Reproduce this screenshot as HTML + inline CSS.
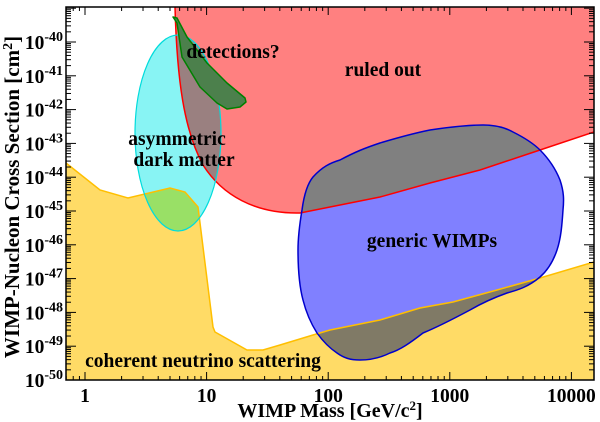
<!DOCTYPE html>
<html><head><meta charset="utf-8"><style>
body{margin:0;background:#fff}
svg{display:block}
text{font-family:"Liberation Serif",serif;font-weight:bold}
</style></head><body>
<svg id="s" width="600" height="422" viewBox="0 0 600 422" xmlns="http://www.w3.org/2000/svg">
<defs>
<clipPath id="plot"><rect x="66" y="7" width="528" height="373"/></clipPath>
<clipPath id="cRed"><path id="pRed" d="M175,7 C177,80 184,130 203,165 C222,195 255,214 300,213 L330,207 L380,197 L430,183 L480,170 L540,150 L594,132 L594,7 Z"/></clipPath>
<clipPath id="cYel"><path id="pYel" d="M66,163 L100,190 L128,198 L170,188 L185,192 L198,207 L213,327 L215,332 L247,350 L263,350 L280,345 L313,335 L330,330 L380,320 L420,308 L453,302 L497,290 L540,278 L594,262 L594,380 L66,380 Z"/></clipPath>
<clipPath id="cCyan"><ellipse cx="178" cy="133" rx="43" ry="98"/></clipPath>
<clipPath id="cBlue"><path id="pBlue" d="M302,210 C304,195 308,183 313,177 C322,167 330,163 340,160 C355,152 365,148 380,143 C400,137 415,133 430,130 C450,127 468,125 483,125 C497,125 506,128 513,132 C525,138 533,143 540,150 C550,160 556,170 560,180 C564,192 564,200 563,210 C562,225 561,238 557,250 C553,262 548,270 540,277 C528,287 518,290 507,293 C493,298 482,303 470,310 C455,318 440,326 423,333 C410,343 400,350 390,353 C380,358 370,360 360,360 C350,360 344,358 337,353 C328,347 322,340 317,333 C310,322 306,312 303,300 C299,285 298,268 298,250 C298,235 300,222 302,210 Z"/></clipPath>
</defs>
<g clip-path="url(#plot)">
<use href="#pYel" fill="#ffdb66" stroke="none"/>
<use href="#pRed" fill="#ff8080"/>
<ellipse cx="178" cy="133" rx="43" ry="98" fill="#88f4f4"/>
<g clip-path="url(#cRed)"><ellipse cx="178" cy="133" rx="43" ry="98" fill="#9a8080"/></g>
<g clip-path="url(#cYel)"><ellipse cx="178" cy="133" rx="43" ry="98" fill="#99e066"/></g>
<use href="#pBlue" fill="#8080ff"/>
<g clip-path="url(#cRed)"><use href="#pBlue" fill="#808080"/></g>
<g clip-path="url(#cYel)"><use href="#pBlue" fill="#807a66"/></g>
<path d="M66,163 L100,190 L128,198 L170,188 L185,192 L198,207 L213,327 L215,332 L247,350 L263,350 L280,345 L313,335 L330,330 L380,320 L420,308 L453,302 L497,290 L540,278 L594,262" fill="none" stroke="#ffbf00" stroke-width="1.5"/>
<path d="M175,7 C177,80 184,130 203,165 C222,195 255,214 300,213 L330,207 L380,197 L430,183 L480,170 L540,150 L594,132" fill="none" stroke="#ff0000" stroke-width="1.5"/>
<ellipse cx="178" cy="133" rx="43" ry="98" fill="none" stroke="#00dcdc" stroke-width="1.2"/>
<use href="#pBlue" fill="none" stroke="#0000cc" stroke-width="1.5"/>
<path d="M173,17 L177,23 L182,57 L200,87 L217,103 L227,109 L240,107 L246,102 L245,98 L227,83 L207,63 L187,37 L177,18 Z" fill="#4c804c" stroke="#008000" stroke-width="1.5" stroke-linejoin="round"/>
</g>
<g id="ticks" stroke="#000" stroke-width="1"></g>
<rect x="66" y="7" width="528" height="373" fill="none" stroke="#000" stroke-width="1.5"/>
<g font-size="19.5" fill="#000">
<text x="233" y="58" text-anchor="middle">detections?</text>
<text x="383" y="76" text-anchor="middle">ruled out</text>
<text x="177" y="145" text-anchor="middle">asymmetric</text>
<text x="184" y="166" text-anchor="middle">dark matter</text>
<text x="432" y="247" text-anchor="middle">generic WIMPs</text>
<text x="203" y="367" text-anchor="middle">coherent neutrino scattering</text>
</g>
<g id="labels" font-size="19.5" fill="#000"></g>
<text x="330" y="417" text-anchor="middle" font-size="20">WIMP Mass [GeV/c<tspan dy="-7" font-size="13">2</tspan><tspan dy="7">]</tspan></text>
<text transform="translate(19,197) rotate(-90)" text-anchor="middle" font-size="21">WIMP-Nucleon Cross Section [cm<tspan dy="-7" font-size="14">2</tspan><tspan dy="7">]</tspan></text>
</svg>
<script>
var ns="http://www.w3.org/2000/svg",t=document.getElementById("ticks"),L=document.getElementById("labels");
function ln(x1,y1,x2,y2){var l=document.createElementNS(ns,"line");l.setAttribute("x1",x1);l.setAttribute("y1",y1);l.setAttribute("x2",x2);l.setAttribute("y2",y2);t.appendChild(l);}
function X(lg){return 85+lg*121.6;}
function Y(e){return 42+(-40-e)*33.8;}
for(var d=-1;d<=4;d++)for(var k=1;k<10;k++){var x=X(d+Math.log10(k));if(x<66||x>594)continue;var len=k==1?8:4;ln(x,380,x,380-len);ln(x,7,x,7+len);}
for(var e=-51;e<=-39;e++)for(var k=1;k<10;k++){var y=Y(e+Math.log10(k));if(y<7||y>380)continue;var len=k==1?10:5;ln(66,y,66+len,y);ln(594,y,594-len,y);}
var xl=["1","10","100","1000","10000"];
for(var i=0;i<5;i++){var tx=document.createElementNS(ns,"text");tx.setAttribute("x",X(i));tx.setAttribute("y",402);tx.setAttribute("text-anchor","middle");tx.textContent=xl[i];L.appendChild(tx);}
for(var e=-40;e>=-50;e--){var tx=document.createElementNS(ns,"text");tx.setAttribute("x",63);tx.setAttribute("y",Y(e)+7);tx.setAttribute("text-anchor","end");tx.innerHTML='10<tspan dy="-8" font-size="14">'+e+'</tspan>';L.appendChild(tx);}
</script>
</body></html>
